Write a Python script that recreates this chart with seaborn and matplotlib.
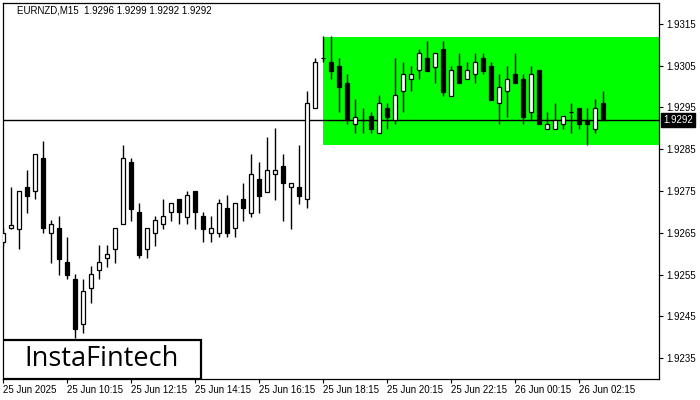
import matplotlib
matplotlib.use("Agg")
import matplotlib.pyplot as plt
from matplotlib.patches import Rectangle
import numpy as np
import seaborn as sns

### candle values (EURNZD, M15)
opens = [1.92628, 1.92661, 1.92660, 1.92760, 1.92749, 1.92829, 1.92649, 1.92661, 1.92580, 1.92539,
         1.92431, 1.92519, 1.92560, 1.92589, 1.92610, 1.92670, 1.92819, 1.92700, 1.92610, 1.92649,
         1.92670, 1.92699, 1.92731, 1.92688, 1.92750, 1.92690, 1.92649, 1.92649, 1.92709, 1.92661,
         1.92730, 1.92698, 1.92778, 1.92748, 1.92790, 1.92810, 1.92759, 1.92760, 1.92730, 1.92948,
         1.93068, 1.93058, 1.93049, 1.93008, 1.92910, 1.92920, 1.92930, 1.92888, 1.92948, 1.92920,
         1.92989, 1.93018, 1.93039, 1.93068, 1.93048, 1.93090, 1.92978, 1.93049, 1.93018, 1.93030,
         1.93068, 1.93049, 1.92960, 1.92989, 1.93030, 1.93018, 1.92939, 1.93039, 1.92899, 1.92899,
         1.92910, 1.92939, 1.92948, 1.92920, 1.92899, 1.92960]
highs = [1.92661, 1.92760, 1.92750, 1.92800, 1.92839, 1.92870, 1.92681, 1.92690, 1.92640, 1.92551,
         1.92539, 1.92570, 1.92621, 1.92621, 1.92661, 1.92860, 1.92828, 1.92721, 1.92661, 1.92690,
         1.92731, 1.92721, 1.92731, 1.92750, 1.92750, 1.92700, 1.92690, 1.92730, 1.92740, 1.92721,
         1.92768, 1.92839, 1.92819, 1.92879, 1.92900, 1.92839, 1.92768, 1.92859, 1.92990, 1.93068,
         1.93120, 1.93120, 1.93068, 1.93030, 1.92970, 1.92948, 1.92939, 1.92979, 1.92960, 1.93068,
         1.93058, 1.93049, 1.93090, 1.93109, 1.93080, 1.93109, 1.93049, 1.93080, 1.93058, 1.93080,
         1.93080, 1.93058, 1.93030, 1.93049, 1.93080, 1.93030, 1.93049, 1.93039, 1.92939, 1.92960,
         1.92930, 1.92960, 1.92948, 1.92948, 1.92970, 1.92990]
lows = [1.92618, 1.92660, 1.92610, 1.92698, 1.92730, 1.92649, 1.92578, 1.92549, 1.92539, 1.92398,
        1.92409, 1.92481, 1.92539, 1.92569, 1.92578, 1.92670, 1.92679, 1.92589, 1.92589, 1.92619,
        1.92660, 1.92679, 1.92670, 1.92670, 1.92660, 1.92629, 1.92629, 1.92639, 1.92639, 1.92639,
        1.92679, 1.92688, 1.92698, 1.92748, 1.92728, 1.92679, 1.92659, 1.92719, 1.92709, 1.92948,
        1.93058, 1.93018, 1.92938, 1.92910, 1.92888, 1.92888, 1.92888, 1.92888, 1.92899, 1.92910,
        1.92938, 1.92989, 1.93018, 1.93038, 1.93008, 1.92978, 1.92978, 1.93008, 1.93018, 1.93008,
        1.93030, 1.92969, 1.92910, 1.92928, 1.93008, 1.92910, 1.92920, 1.92910, 1.92899, 1.92899,
        1.92899, 1.92888, 1.92899, 1.92859, 1.92888, 1.92920]
closes = [1.92649, 1.92669, 1.92750, 1.92739, 1.92839, 1.92661, 1.92670, 1.92588, 1.92550, 1.92419,
          1.92510, 1.92551, 1.92580, 1.92599, 1.92661, 1.92828, 1.92708, 1.92598, 1.92661, 1.92681,
          1.92690, 1.92721, 1.92699, 1.92740, 1.92699, 1.92660, 1.92661, 1.92721, 1.92649, 1.92721,
          1.92709, 1.92790, 1.92739, 1.92800, 1.92800, 1.92768, 1.92768, 1.92739, 1.92960, 1.93058,
          1.93068, 1.93038, 1.92998, 1.92920, 1.92928, 1.92921, 1.92899, 1.92960, 1.92928, 1.92979,
          1.93030, 1.93030, 1.93080, 1.93038, 1.93080, 1.92988, 1.93039, 1.93008, 1.93039, 1.93058,
          1.93038, 1.92969, 1.92998, 1.93018, 1.93008, 1.92928, 1.93030, 1.92910, 1.92910, 1.92920,
          1.92930, 1.92938, 1.92910, 1.92910, 1.92948, 1.92920]

time_labels = ["25 Jun 2025", "25 Jun 10:15", "25 Jun 12:15", "25 Jun 14:15", "25 Jun 16:15",
               "25 Jun 18:15", "25 Jun 20:15", "25 Jun 22:15", "26 Jun 00:15", "26 Jun 02:15"]
price_ticks = [1.9235, 1.9245, 1.9255, 1.9265, 1.9275, 1.9285, 1.9295, 1.9305, 1.9315]
header = "EURNZD,M15  1.9296 1.9299 1.9292 1.9292"
last_price = 1.9292
zone_start = 40          # first candle of the range box
zone_top = 1.93119
zone_bottom = 1.92860
logo_text = "InstaFintech"

sns.set_theme(style="white")
plt.rcParams["font.family"] = ["Liberation Sans", "DejaVu Sans"]
plt.rcParams["text.color"] = "black"

fig = plt.figure(figsize=(7, 4), dpi=100)
fig.patch.set_facecolor("white")
ax = fig.add_axes([3 / 700, 21 / 400, 656 / 700, 376 / 400])

x = np.arange(len(opens))
o = np.array(opens)
c = np.array(closes)
up = c >= o
body_low = np.minimum(o, c)
body_h = np.abs(c - o)

# range box and last price line
ax.add_patch(Rectangle((zone_start, zone_bottom), 100, zone_top - zone_bottom,
                       facecolor="#00ff00", edgecolor="none", zorder=1))
ax.axhline(last_price, color="black", lw=1, zorder=2)

# candles
ax.vlines(x, lows, highs, color="black", lw=1, zorder=3)
ax.bar(x[up], body_h[up], bottom=body_low[up], width=0.5,
       color="white", edgecolor="black", lw=0.9, zorder=4)
ax.bar(x[~up], body_h[~up], bottom=body_low[~up], width=0.5,
       color="black", edgecolor="black", lw=0.9, zorder=4)

ax.set_xlim(-0.04, 81.96)
ax.set_ylim(1.9230, 1.9320)

# axes look
for s in ax.spines.values():
    s.set_color("black")
    s.set_linewidth(0.9)
ax.yaxis.tick_right()
ax.set_yticks(price_ticks)
ax.set_yticklabels(["%.4f" % p for p in price_ticks])
ax.set_xticks(x[::8])
ax.set_xticklabels(time_labels, ha="left")
ax.tick_params(axis="y", right=True, left=False, direction="out", length=3, width=0.8,
               pad=2, labelsize=7, colors="black")
ax.tick_params(axis="x", bottom=True, direction="out", length=3, width=0.8,
               pad=1.5, labelsize=7, colors="black")

# last price marker on the scale
ax.text(1 + 4 / 656, last_price, "%.4f" % last_price, transform=ax.get_yaxis_transform(),
        ha="left", va="center", color="white", fontsize=7, clip_on=False,
        bbox=dict(boxstyle="square,pad=0.2", fc="black", ec="black"))

# header text
ax.text(14 / 656, 0.979, header, transform=ax.transAxes, fontsize=7, va="center", ha="left")

# logo box
ax.add_patch(Rectangle((0, 0), 198 / 656, 39 / 376, transform=ax.transAxes,
                       facecolor="white", edgecolor="black", lw=1.6, zorder=10))
ax.text(99 / 656, 20 / 376, logo_text, transform=ax.transAxes, ha="center", va="center",
        fontsize=19.5, weight="medium", family=["Open Sans", "DejaVu Sans"], zorder=11)

fig.savefig("out.png", dpi=100)
